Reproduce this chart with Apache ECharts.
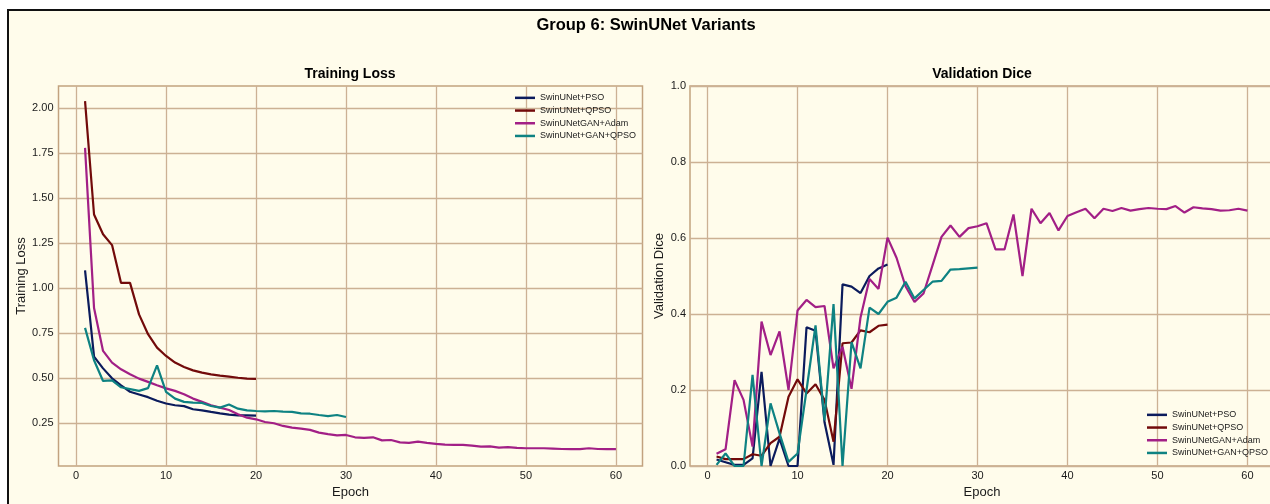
<!DOCTYPE html>
<html>
<head>
<meta charset="utf-8">
<title>Group 6: SwinUNet Variants</title>
<script src="https://cdn.jsdelivr.net/npm/echarts@6/dist/echarts.min.js"></script>
<style>
  html, body { margin: 0; padding: 0; background: #ffffff; overflow: hidden; }
  #frame {
    position: absolute; left: 7px; top: 9px; width: 1300px; height: 600px;
    background: #FFFCEB; border: 2px solid #111111; box-sizing: border-box;
  }
  #chart { position: absolute; left: 0; top: 0; width: 1270px; height: 504px; }
</style>
</head>
<body>
<div id="frame"></div>
<div id="chart"></div>
<script>
// ---- data -------------------------------------------------------------
const seriesNames = ['SwinUNet+PSO', 'SwinUNet+QPSO', 'SwinUNetGAN+Adam', 'SwinUNet+GAN+QPSO'];
const seriesColors = ['#0b1b5c', '#720a0a', '#a21f86', '#0e8282'];

// Training loss per epoch
const trainPSO = [1.10, 0.62, 0.555, 0.50, 0.46, 0.425, 0.41, 0.395, 0.375, 0.36,
  0.35, 0.345, 0.328, 0.322, 0.313, 0.305, 0.298, 0.294, 0.294, 0.292];
const trainQPSO = [2.04, 1.41, 1.30, 1.24, 1.03, 1.03, 0.855, 0.745, 0.67, 0.624,
  0.587, 0.563, 0.544, 0.531, 0.522, 0.515, 0.509, 0.503, 0.498, 0.497];
const trainGANAdam = [1.78, 0.89, 0.652, 0.587, 0.55, 0.522, 0.498, 0.48, 0.461, 0.444,
  0.43, 0.411, 0.387, 0.369, 0.35, 0.337, 0.324, 0.30, 0.281, 0.272,
  0.257, 0.25, 0.235, 0.226, 0.22, 0.213, 0.198, 0.19, 0.183, 0.185,
  0.172, 0.169, 0.172, 0.155, 0.157, 0.144, 0.141, 0.148, 0.141, 0.135,
  0.131, 0.13, 0.13, 0.126, 0.12, 0.122, 0.115, 0.117, 0.113, 0.111,
  0.111, 0.111, 0.109, 0.107, 0.106, 0.106, 0.111, 0.107, 0.106, 0.106];
const trainGANQPSO = [0.78, 0.60, 0.485, 0.488, 0.45, 0.44, 0.43, 0.445, 0.572, 0.424,
  0.387, 0.369, 0.365, 0.363, 0.346, 0.337, 0.354, 0.331, 0.322, 0.318,
  0.316, 0.318, 0.315, 0.313, 0.305, 0.303, 0.296, 0.290, 0.296, 0.285];

// Validation Dice per epoch
const valPSO = [0.017, 0.01, 0.003, 0.003, 0.02, 0.248, 0.0, 0.072, 0.0, 0.0,
  0.365, 0.356, 0.115, 0.003, 0.478, 0.472, 0.455, 0.50, 0.52, 0.53];
const valQPSO = [0.025, 0.018, 0.018, 0.018, 0.031, 0.027, 0.06, 0.077, 0.182, 0.228,
  0.191, 0.215, 0.174, 0.064, 0.323, 0.325, 0.357, 0.352, 0.369, 0.372];
const valGANAdam = [0.032, 0.044, 0.226, 0.174, 0.051, 0.38, 0.292, 0.354, 0.2, 0.409,
  0.437, 0.418, 0.421, 0.257, 0.314, 0.203, 0.391, 0.492, 0.466, 0.601,
  0.548, 0.473, 0.432, 0.454, 0.528, 0.603, 0.633, 0.603, 0.626, 0.631,
  0.639, 0.570, 0.570, 0.662, 0.500, 0.677, 0.639, 0.666, 0.620, 0.658,
  0.668, 0.677, 0.652, 0.677, 0.671, 0.679, 0.672, 0.676, 0.679, 0.677,
  0.676, 0.684, 0.667, 0.681, 0.678, 0.676, 0.672, 0.673, 0.677, 0.672];
const valGANQPSO = [0.003, 0.033, 0.0, 0.0, 0.24, 0.0, 0.165, 0.086, 0.011, 0.033,
  0.2, 0.37, 0.12, 0.426, 0.0, 0.326, 0.257, 0.417, 0.40, 0.432,
  0.443, 0.485, 0.441, 0.463, 0.485, 0.487, 0.517, 0.518, 0.520, 0.522];

// Tick labels
const epochTicks = [0, 10, 20, 30, 40, 50, 60];
const lossTicks = [0.25, 0.50, 0.75, 1.00, 1.25, 1.50, 1.75, 2.00];

// ---- chart ------------------------------------------------------------
const FONT = "'Liberation Sans', Arial, Helvetica, sans-serif";
const GRID_COLOR = '#CCB194';
const SPINE_COLOR = '#C2A27F';
const TEXT_COLOR = '#1a1a1a';

const toPoints = arr => arr.map((v, i) => [i + 1, v]);

const trainSets = [trainPSO, trainQPSO, trainGANAdam, trainGANQPSO];
const valSets = [valPSO, valQPSO, valGANAdam, valGANQPSO];

function lineSeries(name, color, data, idx) {
  return {
    name: name,
    type: 'line',
    xAxisIndex: idx,
    yAxisIndex: idx,
    data: toPoints(data),
    showSymbol: false,
    symbol: 'none',
    smooth: false,
    clip: true,
    lineStyle: { color: color, width: 2.2 },
    itemStyle: { color: color },
    emphasis: { disabled: true },
    animation: false
  };
}

const series = [];
seriesNames.forEach((n, i) => series.push(lineSeries(n, seriesColors[i], trainSets[i], 0)));
seriesNames.forEach((n, i) => series.push(lineSeries(n, seriesColors[i], valSets[i], 1)));

function epochAxis(gridIndex) {
  return {
    type: 'value',
    gridIndex: gridIndex,
    min: -1.95,
    max: 62.95,
    name: 'Epoch',
    nameLocation: 'middle',
    nameGap: 17,
    nameTextStyle: { fontFamily: FONT, fontSize: 13, color: TEXT_COLOR },
    axisLine: { show: false },
    axisTick: { show: false, customValues: epochTicks },
    axisLabel: {
      customValues: epochTicks,
      margin: 4,
      fontFamily: FONT, fontSize: 11, color: TEXT_COLOR,
      formatter: v => String(v)
    },
    splitLine: { show: true, lineStyle: { color: GRID_COLOR, width: 1.3 } }
  };
}

const legendCommon = {
  orient: 'vertical',
  icon: 'rect',
  itemWidth: 20,
  itemHeight: 2.5,
  itemGap: 0,
  padding: 0,
  selectedMode: false,
  data: seriesNames,
  textStyle: { fontFamily: FONT, fontSize: 9, color: TEXT_COLOR, lineHeight: 12.7 }
};

const option = {
  backgroundColor: 'transparent',
  animation: false,
  title: [
    {
      text: 'Group 6: SwinUNet Variants',
      left: 646, top: 25, padding: 0,
      textAlign: 'center', textVerticalAlign: 'middle',
      textStyle: { fontFamily: FONT, fontSize: 16.5, fontWeight: 'bold', color: '#000' }
    },
    {
      text: 'Training Loss',
      left: 350, top: 74, padding: 0,
      textAlign: 'center', textVerticalAlign: 'middle',
      textStyle: { fontFamily: FONT, fontSize: 14, fontWeight: 'bold', color: '#000' }
    },
    {
      text: 'Validation Dice',
      left: 982, top: 74, padding: 0,
      textAlign: 'center', textVerticalAlign: 'middle',
      textStyle: { fontFamily: FONT, fontSize: 14, fontWeight: 'bold', color: '#000' }
    }
  ],
  legend: [
    Object.assign({}, legendCommon, { left: 515, top: 91.5 }),
    Object.assign({}, legendCommon, { left: 1147, top: 408.5 })
  ],
  grid: [
    { left: 58.5, top: 86, width: 584, height: 380, show: true,
      outerBoundsMode: 'none', containLabel: false,
      backgroundColor: 'transparent', borderColor: SPINE_COLOR, borderWidth: 1.5 },
    { left: 690, top: 86, width: 584, height: 380, show: true,
      outerBoundsMode: 'none', containLabel: false,
      backgroundColor: 'transparent', borderColor: SPINE_COLOR, borderWidth: 1.5 }
  ],
  xAxis: [epochAxis(0), epochAxis(1)],
  yAxis: [
    {
      type: 'value',
      gridIndex: 0,
      min: 0.0125,
      max: 2.124,
      name: 'Training Loss',
      nameLocation: 'middle',
      nameGap: 31,
      nameTextStyle: { fontFamily: FONT, fontSize: 13, color: TEXT_COLOR },
      axisLine: { show: false },
      axisTick: { show: false, customValues: lossTicks },
      axisLabel: {
        customValues: lossTicks,
        margin: 5,
        fontFamily: FONT, fontSize: 11, color: TEXT_COLOR,
        formatter: v => v.toFixed(2)
      },
      splitLine: { show: true, lineStyle: { color: GRID_COLOR, width: 1.3 } }
    },
    {
      type: 'value',
      gridIndex: 1,
      min: 0,
      max: 1,
      interval: 0.2,
      name: 'Validation Dice',
      nameLocation: 'middle',
      nameGap: 24,
      nameTextStyle: { fontFamily: FONT, fontSize: 13, color: TEXT_COLOR },
      axisLine: { show: false },
      axisTick: { show: false },
      axisLabel: {
        margin: 4,
        fontFamily: FONT, fontSize: 11, color: TEXT_COLOR,
        formatter: v => v.toFixed(1)
      },
      splitLine: { show: true, lineStyle: { color: GRID_COLOR, width: 1.3 } }
    }
  ],
  series: series
};

const chart = echarts.init(document.getElementById('chart'), null, { renderer: 'canvas' });
chart.setOption(option);
</script>
</body>
</html>
